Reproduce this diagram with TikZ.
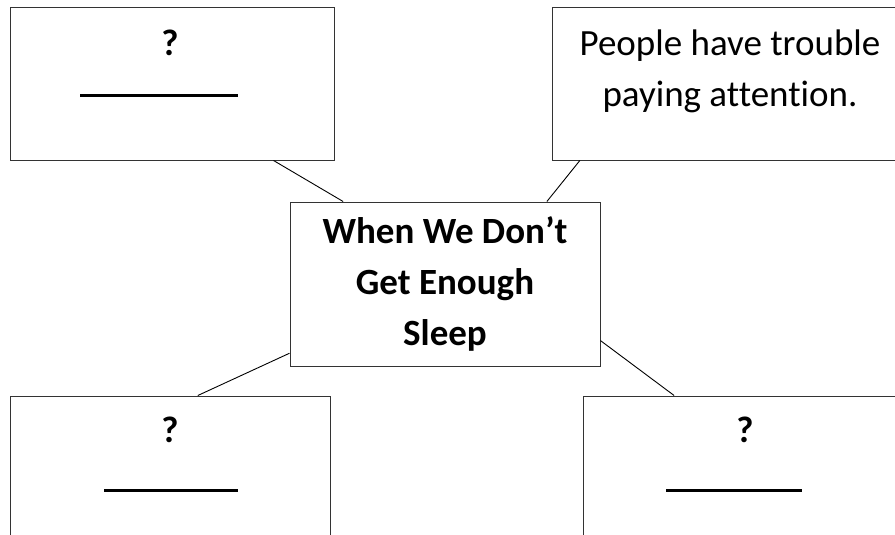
\documentclass[tikz,border=0pt]{standalone}
\usepackage{fontspec}
\setmainfont{Carlito}[Ligatures=NoCommon]
\usetikzlibrary{calc}

\tikzset{
  box/.style={draw=black!80, line width=1pt, fill=white, inner sep=0pt},
  link/.style={draw, line width=0.9pt},
  blank/.style={line width=3pt},
  big/.style={font=\fontsize{37}{51}\selectfont, align=center, inner sep=0pt}
}

\begin{document}
\begin{tikzpicture}[x=1pt,y=-1pt]
\useasboundingbox (0,0) rectangle (895,535);
\clip (0,0) rectangle (895,535);

% boxes
\node[box, minimum width=324pt, minimum height=152pt] (tl) at (172,84) {};
\node[box, minimum width=356pt, minimum height=152pt] (tr) at (730,84) {};
\node[box, minimum width=320pt, minimum height=152pt] (bl) at (170,472) {};
\node[box, minimum width=320pt, minimum height=152pt] (br) at (743,472) {};
\node[box, minimum width=310pt, minimum height=164pt, big, font=\fontsize{37}{51}\selectfont\bfseries] (sleep) at (445,284)
  {When We Don’t\\Get Enough\\Sleep};

% connectors
\draw[link] (tl.-37.5) -- (sleep.141.2);
\draw[link] (tr.207.3) -- (sleep.39.9);
\draw[link] (bl.70.4) -- (sleep.204.3);
\draw[link] (br.132.7) -- (sleep.-20.8);

% texts
\node[big] (trtext) at (730,71) {People have trouble\\paying attention.};
\node[big, font=\fontsize{37}{51}\selectfont\bfseries] (tlq) at (170,43) {?};
\node[big, font=\fontsize{37}{51}\selectfont\bfseries] (blq) at (170,430) {?};
\node[big, font=\fontsize{37}{51}\selectfont\bfseries] (brq) at (745,430) {?};

% blanks
\draw[blank] (80,96) -- (238,96);
\draw[blank] (104,490) -- (238,490);
\draw[blank] (666,490) -- (802,490);

\end{tikzpicture}
\end{document}
